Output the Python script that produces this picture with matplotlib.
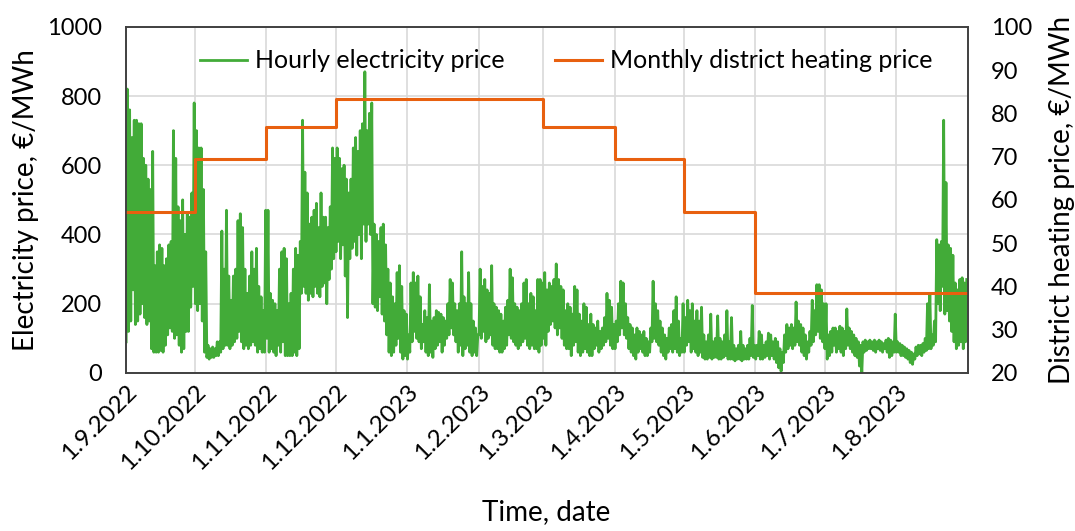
import matplotlib
matplotlib.use('Agg')
import matplotlib.pyplot as plt
import numpy as np
import pandas as pd

plt.rcParams['font.family'] = ['Lato', 'DejaVu Sans']

# daily max / min of the hourly electricity price, EUR/MWh (one row per month)
daily_high = [
    820, 760, 680, 730, 730, 720, 720, 620, 600, 560, 530, 640, 310, 350, 370, 360, 310, 330, 370, 380, 700, 620, 480, 440, 500, 400, 460, 450, 520, 780,  # Sep
    700, 650, 650, 530, 350, 80, 70, 75, 70, 90, 90, 410, 300, 470, 280, 210, 280, 300, 440, 460, 420, 300, 230, 280, 350, 300, 360, 250, 220, 180, 470,  # Oct
    470, 230, 210, 200, 180, 300, 350, 360, 330, 200, 230, 300, 360, 340, 380, 730, 580, 520, 430, 450, 470, 490, 420, 520, 450, 450, 420, 480, 650, 620,  # Nov
    650, 620, 590, 600, 560, 520, 560, 650, 680, 640, 700, 720, 870, 700, 750, 780, 430, 400, 380, 420, 430, 370, 300, 260, 220, 200, 290, 310, 250, 180, 170,  # Dec
    110, 260, 290, 260, 280, 220, 140, 180, 160, 255, 150, 160, 180, 175, 170, 160, 150, 200, 270, 260, 200, 180, 200, 350, 220, 200, 290, 200, 150, 130, 110,  # Jan
    300, 250, 270, 240, 230, 310, 200, 190, 180, 170, 150, 190, 210, 300, 275, 200, 190, 180, 200, 260, 270, 200, 230, 220, 180, 270, 270, 260,  # Feb
    290, 240, 260, 250, 270, 315, 270, 250, 240, 180, 200, 190, 170, 250, 240, 170, 150, 200, 190, 140, 170, 140, 130, 150, 120, 130, 160, 230, 210, 190, 140,  # Mar
    150, 200, 265, 260, 200, 160, 140, 130, 110, 130, 120, 110, 120, 100, 90, 130, 265, 200, 180, 150, 130, 110, 100, 130, 140, 180, 220, 150, 100, 200,  # Apr
    160, 210, 180, 200, 150, 180, 150, 190, 110, 90, 110, 170, 90, 100, 165, 100, 90, 110, 180, 90, 160, 80, 70, 80, 120, 80, 70, 80, 100, 195, 80,  # May
    80, 120, 110, 80, 90, 115, 110, 90, 100, 90, 70, 60, 110, 140, 130, 140, 130, 205, 150, 140, 130, 110, 90, 120, 210, 180, 255, 255, 240, 200,  # Jun
    200, 110, 120, 130, 130, 120, 135, 130, 120, 185, 130, 120, 110, 100, 90, 80, 90, 95, 90, 95, 90, 95, 90, 95, 90, 85, 95, 100, 95, 90, 170,  # Jul
    90, 85, 80, 75, 70, 65, 60, 55, 75, 80, 80, 85, 100, 200, 230, 110, 150, 385, 370, 380, 730, 550, 370, 360, 340, 260, 240, 270, 275, 260, 270,  # Aug
]
daily_low = [
    90, 120, 150, 240, 140, 150, 170, 200, 160, 140, 150, 70, 60, 60, 60, 65, 60, 80, 110, 130, 120, 100, 110, 80, 60, 70, 120, 120, 190, 250,  # Sep
    200, 180, 200, 150, 60, 45, 40, 45, 45, 50, 50, 60, 70, 80, 80, 70, 80, 90, 100, 120, 90, 70, 80, 70, 80, 90, 80, 60, 70, 60, 60,  # Oct
    100, 60, 70, 60, 50, 80, 60, 90, 50, 50, 50, 50, 60, 50, 70, 230, 250, 230, 210, 230, 220, 250, 230, 220, 250, 260, 200, 270, 300, 330,  # Nov
    350, 380, 330, 370, 280, 160, 330, 360, 380, 340, 400, 330, 430, 380, 430, 400, 200, 190, 180, 220, 170, 150, 110, 60, 50, 60, 80, 100, 60, 40, 50,  # Dec
    40, 60, 90, 120, 100, 90, 70, 90, 60, 50, 60, 45, 70, 80, 90, 60, 80, 100, 110, 130, 110, 90, 60, 80, 50, 70, 80, 60, 50, 60, 50,  # Jan
    110, 100, 120, 90, 100, 110, 80, 70, 70, 60, 60, 70, 80, 110, 100, 90, 80, 70, 80, 90, 100, 80, 70, 80, 70, 70, 60, 80,  # Feb
    100, 80, 120, 140, 150, 130, 110, 130, 100, 80, 70, 70, 50, 80, 90, 60, 50, 60, 70, 60, 50, 50, 70, 80, 60, 70, 80, 90, 100, 80, 70,  # Mar
    70, 90, 110, 130, 110, 100, 70, 60, 50, 40, 60, 70, 60, 50, 50, 60, 90, 100, 90, 80, 60, 50, 40, 60, 70, 60, 70, 60, 50, 60,  # Apr
    60, 80, 90, 60, 70, 60, 50, 60, 45, 40, 40, 45, 40, 45, 45, 40, 40, 45, 50, 40, 40, 40, 35, 40, 40, 35, 40, 40, 40, 50, 45,  # May
    40, 50, 40, 40, 45, 50, 40, 50, 40, 30, 15, 5, 30, 60, 70, 80, 70, 80, 90, 80, 60, 50, 40, 60, 80, 90, 110, 120, 100, 90,  # Jun
    70, 40, 50, 60, 80, 60, 70, 60, 50, 70, 80, 70, 60, 50, 45, 20, 0, 60, 65, 70, 70, 65, 60, 70, 65, 60, 70, 60, 45, 50, 60,  # Jul
    60, 60, 50, 50, 45, 40, 30, 25, 40, 50, 55, 50, 60, 65, 70, 70, 80, 90, 200, 180, 250, 170, 180, 150, 120, 90, 70, 80, 90, 70, 90,  # Aug
]

# monthly district heating price, EUR/MWh (Sep 2022 .. Aug 2023)
heating_price = [57.2, 69.5, 76.9, 83.2, 83.2, 83.2, 76.9, 69.5, 57.2, 38.5, 38.5, 38.5]

month_starts = pd.date_range('2022-09-01', periods=13, freq='MS')
tick_labels = [f"{d.day}.{d.month}.{d.year}" for d in month_starts[:12]]

GREEN = '#42AB38'
ORANGE = '#E8600F'
GRID = '#D9D9D9'

# two samples per day (night low, daytime high)
days = pd.date_range('2022-09-01', periods=len(daily_high), freq='D')
t = np.empty(2 * len(days), dtype='datetime64[ns]')
t[0::2] = (days + pd.Timedelta(hours=4)).values
t[1::2] = (days + pd.Timedelta(hours=16)).values
price = np.empty(2 * len(days))
price[0::2] = daily_low
price[1::2] = daily_high

fig = plt.figure(figsize=(10.75, 5.31), dpi=100)
ax = fig.add_axes([0.117, 0.2976, 0.783, 0.652])
ax2 = ax.twinx()

l1, = ax.plot(t, price, color=GREEN, lw=2.0, label='Hourly electricity price')
l2, = ax2.step(month_starts, heating_price + [heating_price[-1]], where='post',
               color=ORANGE, lw=2.2, label='Monthly district heating price')

ax.set_xlim(month_starts[0], month_starts[-1])
ax.set_ylim(0, 1000)
ax.set_yticks(np.arange(0, 1001, 200))
ax2.set_ylim(20, 100)
ax2.set_yticks(np.arange(20, 101, 10))

ax.set_xticks(month_starts[:12])
ax.set_xticklabels(tick_labels, rotation=45, ha='right', va='top', rotation_mode='anchor')
ax.grid(True, color=GRID, lw=1.2)
ax.set_axisbelow(True)

for a in (ax, ax2):
    a.tick_params(length=0, labelsize=17)
    a.tick_params(axis='y', pad=17)
    a.tick_params(axis='x', pad=6, labelsize=17.5)
    for s in a.spines.values():
        s.set_color('#404040')
        s.set_linewidth(1.2)

ax.set_ylabel('Electricity price, €/MWh', fontsize=20, labelpad=6)
ax2.set_ylabel('District heating price, €/MWh', fontsize=20, labelpad=12)
ax.set_xlabel('Time, date', fontsize=20, labelpad=18)

ax2.legend([l1, l2], [l1.get_label(), l2.get_label()], loc='upper center',
           bbox_to_anchor=(0.523, 1.0), ncol=2, frameon=False, fontsize=18,
           handlelength=1.9, handletextpad=0.3, columnspacing=2.0)

plt.savefig('out.png', dpi=100)
plt.close()
